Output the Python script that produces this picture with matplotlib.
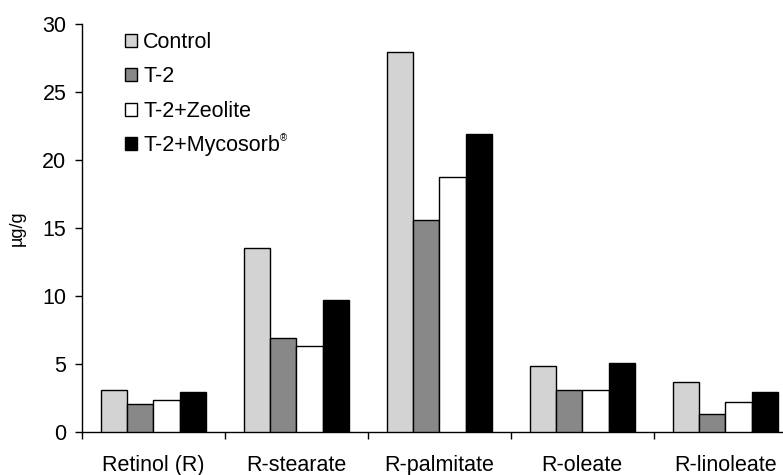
import matplotlib
matplotlib.use("Agg")
import matplotlib.pyplot as plt
import numpy as np
from matplotlib.patches import Patch

plt.rcParams['font.family'] = ['Liberation Sans', 'DejaVu Sans']

categories = ["Retinol (R)", "R-stearate", "R-palmitate", "R-oleate", "R-linoleate"]
series_names = ["Control", "T-2", "T-2+Zeolite", "T-2+Mycosorb"]
control = [3.07, 13.5, 27.9, 4.85, 3.63]
t2 = [2.04, 6.9, 15.57, 3.07, 1.32]
zeolite = [2.35, 6.3, 18.7, 3.07, 2.18]
mycosorb = [2.94, 9.7, 21.9, 5.03, 2.94]
yticks = [0, 5, 10, 15, 20, 25, 30]

values = [control, t2, zeolite, mycosorb]
colors = ["#d3d3d3", "#888888", "#ffffff", "#000000"]

W, H = 783, 475
fig = plt.figure(figsize=(W / 100, H / 100), dpi=100)
ax = fig.add_axes([81.7 / W, (H - 431.7) / H, 715 / W, 408 / H])

n = len(categories)
x = np.arange(n) + 0.5
bw = 0.184
for i, (vals, c) in enumerate(zip(values, colors)):
    ax.bar(x + (i - 1.5) * bw, vals, width=bw, color=c, edgecolor="black",
           linewidth=1.0, zorder=3)

ax.set_xlim(0, n)
ax.set_ylim(0, 30)
ax.set_yticks(yticks)
ax.set_yticklabels([str(v) for v in yticks])
ax.set_xticks(np.arange(n + 1))
ax.set_xticklabels([])
ax.set_xticks(x, minor=True)
ax.set_xticklabels(categories, minor=True)
ax.tick_params(axis='x', which='minor', length=0, pad=16.5, labelsize=15.5)
ax.tick_params(axis='x', which='major', length=5, width=1, direction='out')
ax.tick_params(axis='y', length=5, width=1, direction='out', pad=6, labelsize=15.5)
for s in ["top", "right"]:
    ax.spines[s].set_visible(False)
for s in ["left", "bottom"]:
    ax.spines[s].set_linewidth(1.0)

ax.set_ylabel("µg/g", fontsize=13, labelpad=12)

handles = [Patch(facecolor=c, edgecolor="black", linewidth=1.0) for c in colors]
leg = ax.legend(handles, series_names, loc="upper left",
                bbox_to_anchor=(125 / W, (H - 32) / H), bbox_transform=fig.transFigure,
                frameon=False, fontsize=15.5, handlelength=0.55, handleheight=0.55,
                handletextpad=0.3, labelspacing=0.62, borderpad=0, borderaxespad=0)
leg.set_zorder(5)
ax.annotate("®", xy=(1, 0.85), xycoords=leg.get_texts()[3], fontsize=7,
            ha="left", va="center", zorder=10)

fig.savefig("out.png", dpi=100)
